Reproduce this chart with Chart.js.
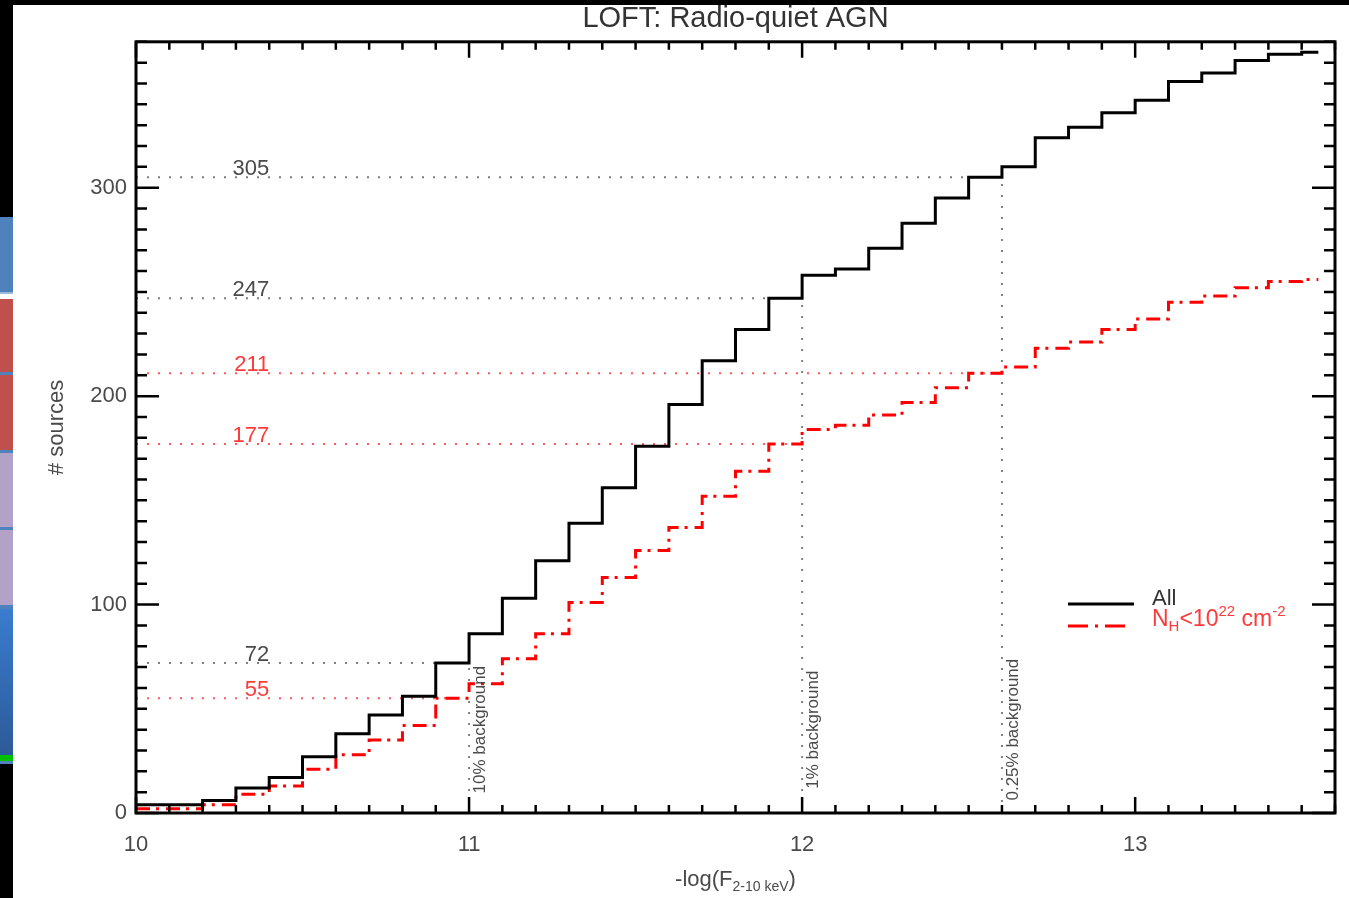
<!DOCTYPE html>
<html>
<head>
<meta charset="utf-8">
<title>LOFT: Radio-quiet AGN</title>
<script src="https://cdn.jsdelivr.net/npm/chart.js@4.4.1/dist/chart.umd.min.js"></script>
<style>
  html, body { margin: 0; padding: 0; background: #fff; }
  #wrap { position: relative; width: 1349px; height: 898px; overflow: hidden; background: #fff; }
  #plot { position: absolute; left: 0; top: 0; width: 1349px; height: 898px; }
  .edge { position: absolute; }
</style>
</head>
<body>
<div id="wrap">
  <canvas id="plot" width="1349" height="898"></canvas>
  <!-- window edge and slide-sorter swatches -->
  <div class="edge" style="left:0;top:0;width:1349px;height:5px;background:#000"></div>
  <div class="edge" style="left:0;top:0;width:13px;height:898px;background:#000"></div>
  <div class="edge" style="left:0;top:217px;width:13px;height:75px;background:#4f81bd"></div>
  <div class="edge" style="left:0;top:292px;width:13px;height:2px;background:#9cb9dc"></div>
  <div class="edge" style="left:0;top:294px;width:13px;height:5px;background:#fff"></div>
  <div class="edge" style="left:0;top:299px;width:13px;height:73px;background:#c0504d"></div>
  <div class="edge" style="left:0;top:372px;width:13px;height:3px;background:#4f81bd"></div>
  <div class="edge" style="left:0;top:375px;width:13px;height:75px;background:#c0504d"></div>
  <div class="edge" style="left:0;top:450px;width:13px;height:3px;background:#4f81bd"></div>
  <div class="edge" style="left:0;top:453px;width:13px;height:74px;background:#b3a2c7"></div>
  <div class="edge" style="left:0;top:527px;width:13px;height:3px;background:#4f81bd"></div>
  <div class="edge" style="left:0;top:530px;width:13px;height:75px;background:#b3a2c7"></div>
  <div class="edge" style="left:0;top:605px;width:13px;height:4px;background:#4f81bd"></div>
  <div class="edge" style="left:0;top:609px;width:13px;height:146px;background:linear-gradient(#3a7ccf,#2c5a98)"></div>
  <div class="edge" style="left:0;top:755px;width:13px;height:6px;background:#00c000"></div>
  <div class="edge" style="left:0;top:761px;width:13px;height:3px;background:#4f81bd"></div>
</div>
<script>
// Bin left edges of -log(F 2-10 keV) and cumulative source counts per bin
const binStart = [10.0, 10.1, 10.2, 10.3, 10.4, 10.5, 10.6, 10.7, 10.8, 10.9,
                  11.0, 11.1, 11.2, 11.3, 11.4, 11.5, 11.6, 11.7, 11.8, 11.9,
                  12.0, 12.1, 12.2, 12.3, 12.4, 12.5, 12.6, 12.7, 12.8, 12.9,
                  13.0, 13.1, 13.2, 13.3, 13.4, 13.5];
const lastEdge = 13.55;
const allCounts = [4, 4, 6, 12, 17, 27, 38, 47, 56, 72,
                   86, 103, 121, 139, 156, 176, 196, 217, 232, 247,
                   258, 261, 271, 283, 295, 305, 310, 324, 329, 336,
                   342, 351, 355, 361, 364, 365];
const lowNhCounts = [2, 2, 4, 9, 13, 21, 28, 35, 42, 55,
                     62, 74, 86, 101, 113, 126, 137, 152, 164, 177,
                     184, 186, 191, 197, 204, 211, 214, 223, 226, 232,
                     237, 245, 248, 252, 255, 256];

// Background-limit flux thresholds and the counts reached there
const limitFlux = [11.0, 12.0, 12.6];
const limitNames = ['10% background', '1% background', '0.25% background'];
const allAtLimit = [72, 247, 305];
const lowNhAtLimit = [55, 177, 211];

const xTickValues = [10, 11, 12, 13];
const yTickValues = [0, 100, 200, 300];

const FONT = '"Liberation Sans", Arial, Helvetica, sans-serif';
const TEXT = '#4a4a4a';
const RED = '#ff0000';
const RED_TEXT = '#ff3a3a';
const GREY_DOT = '#808080';
const RED_DOT = '#ff5a5a';

function stepPoints(counts) {
  const pts = binStart.map((x, i) => ({ x: x, y: counts[i] }));
  pts.push({ x: lastEdge, y: counts[counts.length - 1] });
  return pts;
}

function guide(points, color, label) {
  return {
    label: label, data: points, borderColor: color, borderWidth: 2,
    borderDash: [2, 9], borderCapStyle: 'butt', pointRadius: 0, fill: false, tension: 0
  };
}

const datasets = [
  { label: 'All', data: stepPoints(allCounts), borderColor: '#000', borderWidth: 3,
    stepped: 'before', pointRadius: 0, fill: false },
  { label: 'NH<1e22', data: stepPoints(lowNhCounts), borderColor: RED, borderWidth: 3,
    borderDash: [14, 6, 3, 7], stepped: 'before', pointRadius: 0, fill: false }
];
limitFlux.forEach((f, i) => {
  datasets.push(guide([{ x: binStart[0], y: allAtLimit[i] }, { x: f, y: allAtLimit[i] }], GREY_DOT, 'all-h' + i));
  datasets.push(guide([{ x: f, y: 0 }, { x: f, y: allAtLimit[i] }], GREY_DOT, 'all-v' + i));
  datasets.push(guide([{ x: binStart[0], y: lowNhAtLimit[i] }, { x: f, y: lowNhAtLimit[i] }], RED_DOT, 'nh-h' + i));
});

// draw a run of text pieces with sub/superscript offsets
function drawRuns(ctx, x, baseline, runs) {
  let cx = x;
  runs.forEach(r => {
    ctx.font = r.size + 'px ' + FONT;
    ctx.fillText(r.t, cx, baseline + (r.dy || 0));
    cx += ctx.measureText(r.t).width + (r.gap || 0);
  });
}
function runsWidth(ctx, runs) {
  let w = 0;
  runs.forEach(r => { ctx.font = r.size + 'px ' + FONT; w += ctx.measureText(r.t).width + (r.gap || 0); });
  return w;
}

const frameAndNotes = {
  id: 'frameAndNotes',
  afterDatasetsDraw(chart) {
    const { ctx, chartArea: a, scales: { x, y } } = chart;
    ctx.save();

    // inward tick marks on all four sides
    ctx.strokeStyle = '#000';
    ctx.lineWidth = 2.5;
    ctx.beginPath();
    for (let i = 0; i <= 36; i++) {
      const px = x.getPixelForValue(10 + i / 10);
      const len = i % 10 === 0 ? 16 : 8;
      ctx.moveTo(px, a.bottom); ctx.lineTo(px, a.bottom - len);
      ctx.moveTo(px, a.top); ctx.lineTo(px, a.top + len);
    }
    for (let i = 0; i <= 37; i++) {
      const py = y.getPixelForValue(i * 10);
      const len = i % 10 === 0 ? 23 : 11;
      ctx.moveTo(a.left, py); ctx.lineTo(a.left + len, py);
      ctx.moveTo(a.right, py); ctx.lineTo(a.right - len, py);
    }
    ctx.stroke();
    ctx.lineWidth = 3;
    ctx.strokeRect(a.left, a.top, a.right - a.left, a.bottom - a.top);

    // counts reached at each background limit
    ctx.font = '22px ' + FONT;
    ctx.textAlign = 'right';
    ctx.textBaseline = 'alphabetic';
    const lx = x.getPixelForValue(10.4);
    limitFlux.forEach((f, i) => {
      ctx.fillStyle = TEXT;
      ctx.fillText(String(allAtLimit[i]), lx, y.getPixelForValue(allAtLimit[i]) - 2);
      ctx.fillStyle = RED_TEXT;
      ctx.fillText(String(lowNhAtLimit[i]), lx, y.getPixelForValue(lowNhAtLimit[i]) - 2);
    });

    // vertical limit names
    ctx.fillStyle = TEXT;
    ctx.font = '17px ' + FONT;
    ctx.textAlign = 'center';
    ctx.textBaseline = 'middle';
    limitFlux.forEach((f, i) => {
      ctx.save();
      ctx.translate(x.getPixelForValue(f) + 11, y.getPixelForValue(40));
      ctx.rotate(-Math.PI / 2);
      ctx.fillText(limitNames[i], 0, 0);
      ctx.restore();
    });

    // x-axis title with subscript
    ctx.textAlign = 'left';
    ctx.textBaseline = 'alphabetic';
    ctx.fillStyle = TEXT;
    const xt = [{ t: '-log(F', size: 22 }, { t: '2-10 keV', size: 14, dy: 5 }, { t: ')', size: 22 }];
    const cx = (a.left + a.right) / 2;
    drawRuns(ctx, cx - runsWidth(ctx, xt) / 2, 886, xt);

    // legend
    const lgX0 = 1068, lgX1 = 1134;
    ctx.lineWidth = 3;
    ctx.strokeStyle = '#000';
    ctx.setLineDash([]);
    ctx.beginPath(); ctx.moveTo(lgX0, 604); ctx.lineTo(lgX1, 604); ctx.stroke();
    ctx.strokeStyle = RED;
    ctx.setLineDash([20, 7, 3, 7]);
    ctx.beginPath(); ctx.moveTo(lgX0, 626); ctx.lineTo(lgX1 - 3, 626); ctx.stroke();
    ctx.setLineDash([]);
    ctx.fillStyle = '#333';
    drawRuns(ctx, 1152, 605, [{ t: 'All', size: 22 }]);
    ctx.fillStyle = RED_TEXT;
    drawRuns(ctx, 1152, 626, [
      { t: 'N', size: 23 }, { t: 'H', size: 15, dy: 5 }, { t: '<10', size: 23 },
      { t: '22', size: 15, dy: -10 }, { t: ' cm', size: 23 }, { t: '-2', size: 15, dy: -10 }
    ]);
    ctx.restore();
  }
};

new Chart(document.getElementById('plot'), {
  type: 'line',
  data: { datasets: datasets },
  options: {
    responsive: false,
    animation: false,
    events: [],
    layout: { padding: { left: 0, right: 14, top: 0, bottom: 0 } },
    plugins: {
      legend: { display: false },
      tooltip: { enabled: false },
      title: {
        display: true, text: 'LOFT: Radio-quiet AGN', fullSize: false,
        color: '#333', font: { family: FONT, size: 29, weight: 'normal' },
        padding: { top: 2, bottom: 5 }
      }
    },
    scales: {
      x: {
        type: 'linear', min: 10, max: 13.6,
        afterFit(scale) { scale.height = 85; },
        afterBuildTicks(scale) { scale.ticks = xTickValues.map(v => ({ value: v })); },
        grid: { display: false, drawTicks: false },
        border: { display: false },
        ticks: { color: TEXT, padding: 19, maxRotation: 0, font: { family: FONT, size: 22 },
                 callback: v => String(v) }
      },
      y: {
        type: 'linear', min: 0, max: 370,
        afterFit(scale) { scale.width = 136; },
        afterBuildTicks(scale) { scale.ticks = yTickValues.map(v => ({ value: v })); },
        grid: { display: false, drawTicks: false },
        border: { display: false },
        ticks: { color: TEXT, padding: 9, font: { family: FONT, size: 22 },
                 callback: v => String(v) },
        title: { display: true, text: '# sources', color: TEXT,
                 font: { family: FONT, size: 22 }, padding: { top: 44, bottom: 0 } }
      }
    }
  },
  plugins: [frameAndNotes]
});
</script>
</body>
</html>
